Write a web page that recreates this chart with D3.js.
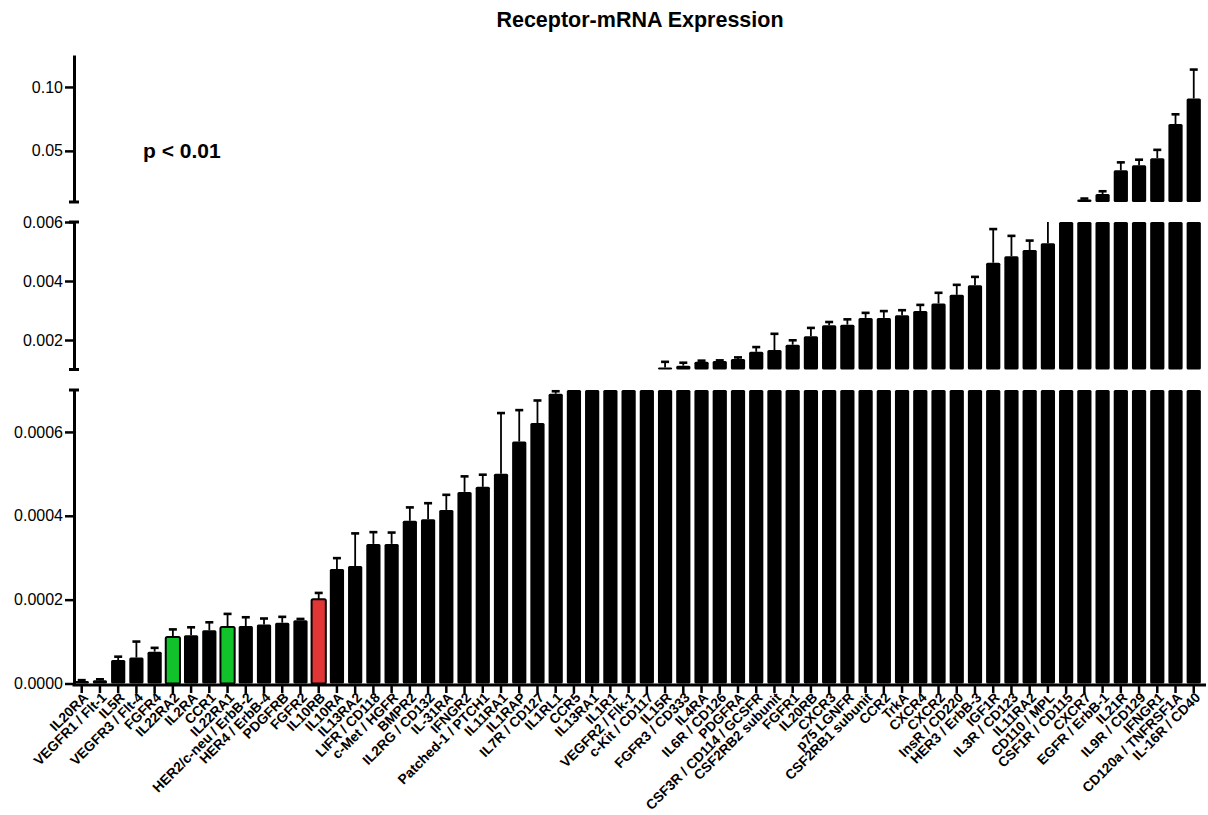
<!DOCTYPE html>
<html>
<head>
<meta charset="utf-8">
<script src="https://cdn.jsdelivr.net/npm/d3@7"></script>
<style>
  body { margin: 0; background: #fff; }
  svg { font-family: "Liberation Sans", Arial, sans-serif; }
</style>
</head>
<body>
<div id="chart"></div>
<script>
// Receptor-mRNA expression, broken y axis bar chart

const receptors = ["IL20RA", "VEGFR1 / Flt-1", "IL5R", "VEGFR3 / Flt-4", "FGFR4", "IL22RA2", "IL2RA", "CCR1",
  "IL22RA1", "HER2/c-neu / ErbB-2", "HER4 / ErbB-4", "PDGFRB", "FGFR2", "IL10RB", "IL10RA", "IL13RA2",
  "LIFR / CD118", "c-Met / HGFR", "BMPR2", "IL2RG / CD132", "IL-31RA", "IFNGR2", "Patched-1 / PTCH1",
  "IL11RA1", "IL1RAP", "IL7R / CD127", "IL1RL1", "CCR5", "IL13RA1", "IL1R1", "VEGFR2 / Flk-1",
  "c-Kit / CD117", "IL15R", "FGFR3 / CD333", "IL4RA", "IL6R / CD126", "PDGFRA", "CSF3R / CD114 / GCSFR",
  "CSF2RB2 subunit", "FGFR1", "IL20RB", "CXCR3", "p75 LGNFR", "CSF2RB1 subunit", "CCR2", "TrkA", "CXCR4",
  "CXCR2", "InsR / CD220", "HER3 / ErbB-3", "IGF1R", "IL3R / CD123", "IL11RA2", "CD110 / MPL",
  "CSF1R / CD115", "CXCR7", "EGFR / ErbB-1", "IL21R", "IL9R / CD129", "IFNGR1", "CD120a / TNFRSF1A",
  "IL-16R / CD40"];

const meanExpr = [0.000006, 0.000008, 0.000056, 0.000062, 0.000076, 0.000111, 0.000115, 0.000127,
  0.000135, 0.000137, 0.000141, 0.000145, 0.000151, 0.000201, 0.000273, 0.000280,
  0.000333, 0.000333, 0.000388, 0.000392, 0.000414, 0.000457, 0.000469,
  0.000500, 0.000577, 0.000621, 0.000691, 0.00074, 0.00078, 0.00083, 0.00088,
  0.00094, 0.00107, 0.00113, 0.00126, 0.00129, 0.00136, 0.00160,
  0.00166, 0.00184, 0.00213, 0.00250, 0.00252, 0.00275, 0.00275, 0.00284, 0.00298,
  0.00324, 0.00353, 0.00386, 0.00462, 0.00484, 0.00505, 0.00528,
  0.0080, 0.0120, 0.0162, 0.0348, 0.0387, 0.0443, 0.0710,
  0.0910];

const semExpr = [0.000002, 0.000002, 0.000008, 0.000038, 0.000009, 0.000018, 0.000019, 0.000019,
  0.000031, 0.000021, 0.000014, 0.000014, 0.000003, 0.000015, 0.000026, 0.000078,
  0.000028, 0.000027, 0.000032, 0.000038, 0.000036, 0.000037, 0.000029,
  0.000145, 0.000075, 0.000054, 0.000006, 0.00005, 0.00005, 0.00005, 0.00005,
  0.00005, 0.00019, 0.00010, 0.00004, 0.00002, 0.00005, 0.00016,
  0.00055, 0.00015, 0.00028, 0.00011, 0.00018, 0.00017, 0.00023, 0.00017, 0.00021,
  0.00036, 0.00034, 0.00028, 0.00114, 0.00069, 0.00032, 0.0015,
  0.0010, 0.0007, 0.0022, 0.0062, 0.0044, 0.0065, 0.0076,
  0.0226];

const greenBars = ["IL22RA2", "IL22RA1"];
const redBars = ["IL10RB"];

// the three pieces of the broken y axis
const lowDomain = [0, 0.0007];
const midDomain = [0.001, 0.006];
const highDomain = [0.01, 0.125];
const lowTicks = [0, 0.0002, 0.0004, 0.0006];
const midTicks = [0.002, 0.004, 0.006];
const highTicks = [0.05, 0.10];

const [w, h] = [1208, 815];
const axisX = 74;
const axisY = 685;

const data = receptors.map((name, i) => ({name: name, value: meanExpr[i], sem: semExpr[i]}));

const svg = d3.select("#chart").
  append("svg").
  attr("width", w).
  attr("height", h);

svg.append("rect").attr("width", w).attr("height", h).attr("fill", "#fff");

const xScale = d3.scaleBand().
  domain(receptors).
  range([72.6, 72.6 + 62 * 18.23]).
  paddingInner(0.22).
  paddingOuter(0.11);

const segments = [
  {scale: d3.scaleLinear().domain(lowDomain).range([683.5, 390]), ticks: lowTicks, fmt: d3.format(".4f"), capTop: true, capBottom: false},
  {scale: d3.scaleLinear().domain(midDomain).range([369.5, 222]), ticks: midTicks, fmt: d3.format(".3f"), capTop: true, capBottom: true},
  {scale: d3.scaleLinear().domain(highDomain).range([202, 55]), ticks: highTicks, fmt: d3.format(".2f"), capTop: false, capBottom: true}
];

const fillOf = d => greenBars.includes(d.name) ? "#12c22a" : (redBars.includes(d.name) ? "#e23535" : "#000");

segments.forEach(seg => {
  const [lo, hi] = seg.scale.domain();
  const y = seg.scale;

  // bars, cut at the segment limits
  svg.append("g").
    selectAll("rect").
    data(data.filter(d => d.value > lo)).
    enter().
    append("rect").
    attr("x", d => xScale(d.name)).
    attr("width", xScale.bandwidth()).
    attr("y", d => y(Math.min(d.value, hi))).
    attr("height", d => y(lo) - y(Math.min(d.value, hi))).
    attr("fill", fillOf).
    attr("stroke", "#000").
    attr("stroke-width", d => fillOf(d) === "#000" ? 0 : 2).
    attr("rx", 1.5);

  // error bar stems
  const errs = data.filter(d => d.value + d.sem > lo && d.value < hi);
  svg.append("g").
    selectAll("line").
    data(errs).
    enter().
    append("line").
    attr("x1", d => xScale(d.name) + xScale.bandwidth() / 2).
    attr("x2", d => xScale(d.name) + xScale.bandwidth() / 2).
    attr("y1", d => y(Math.max(d.value, lo))).
    attr("y2", d => y(Math.min(d.value + d.sem, hi))).
    attr("stroke", "#000").
    attr("stroke-width", 1.8);

  // error bar caps
  svg.append("g").
    selectAll("line").
    data(data.filter(d => d.value + d.sem >= lo && d.value + d.sem <= hi)).
    enter().
    append("line").
    attr("x1", d => xScale(d.name) + xScale.bandwidth() / 2 - 4).
    attr("x2", d => xScale(d.name) + xScale.bandwidth() / 2 + 4).
    attr("y1", d => y(d.value + d.sem)).
    attr("y2", d => y(d.value + d.sem)).
    attr("stroke", "#000").
    attr("stroke-width", 2.6);

  // y axis piece
  const yAxis = d3.axisLeft(y).
    tickValues(seg.ticks).
    tickFormat(seg.fmt).
    tickSize(9).
    tickSizeOuter(0).
    tickPadding(2);

  const g = svg.append("g").
    attr("transform", `translate(${axisX},0)`).
    call(yAxis);
  g.select(".domain").attr("stroke-width", 3);
  g.selectAll(".tick line").attr("stroke-width", 2.5);
  g.selectAll(".tick text").
    style("font-size", "16px").
    style("font-family", "'Liberation Sans', Arial, sans-serif").
    attr("fill", "#000");

  // break caps
  [[seg.capTop, hi], [seg.capBottom, lo]].forEach(([on, v]) => {
    if (!on) return;
    svg.append("line").
      attr("x1", axisX - 5).
      attr("x2", axisX + 5).
      attr("y1", y(v)).
      attr("y2", y(v)).
      attr("stroke", "#000").
      attr("stroke-width", 3);
  });
});

// x axis
const xAxis = d3.axisBottom(xScale).tickSize(8).tickSizeOuter(0);

const gx = svg.append("g").
  attr("id", "x-axis").
  attr("transform", `translate(0,${axisY})`).
  call(xAxis);

gx.select(".domain").attr("d", `M${axisX - 1.5},0H1206`).attr("stroke-width", 3);
gx.selectAll(".tick line").attr("stroke-width", 2.5);
gx.selectAll(".tick text").
  attr("x", 0).
  attr("y", 0).
  attr("dy", "0.35em").
  attr("transform", "translate(4,10) rotate(-45)").
  style("text-anchor", "end").
  style("font-size", "13.8px").
  style("font-weight", "bold").
  style("font-family", "'Liberation Sans', Arial, sans-serif").
  attr("fill", "#000");

// title and note
svg.append("text").
  attr("x", 640).
  attr("y", 27).
  attr("text-anchor", "middle").
  style("font-size", "21.5px").
  style("font-weight", "bold").
  text("Receptor-mRNA Expression");

svg.append("text").
  attr("x", 143).
  attr("y", 158).
  style("font-size", "21px").
  style("font-weight", "bold").
  text("p < 0.01");
</script>
</body>
</html>
